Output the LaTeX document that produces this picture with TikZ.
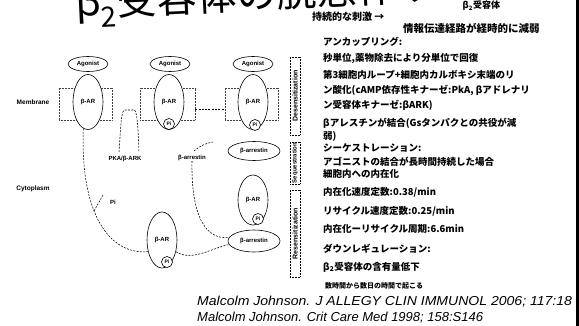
\documentclass[tikz,border=0pt]{standalone}
\usepackage{fontspec}
\setmainfont{Liberation Sans}
\newfontfamily\cjk{Noto Sans CJK JP}
\usetikzlibrary{shapes.geometric}
\begin{document}
\begin{tikzpicture}[x=1pt,y=-1pt,
  lab/.style={inner sep=0pt, font=\bfseries\fontsize{6}{6}\selectfont},
  oval/.style={draw, ellipse, line width=0.6pt, fill=white, inner sep=0pt, font=\bfseries\fontsize{6}{6}\selectfont},
  agon/.style={oval, minimum width=40pt, minimum height=15pt},
  bar/.style={oval, minimum width=30pt, minimum height=55pt},
  arrest/.style={oval, minimum width=52pt, minimum height=19pt},
  pcirc/.style={draw, circle, line width=0.6pt, fill=white, minimum size=11pt, inner sep=0pt, font=\bfseries\fontsize{5}{5}\selectfont},
  memb/.style={draw, densely dotted, line width=0.5pt, black!75, minimum width=53pt, minimum height=32pt, inner sep=0pt},
  vbox/.style={draw, densely dotted, line width=0.5pt, rotate=90, minimum height=10pt, inner sep=0pt, font=\bfseries\fontsize{7}{7}\selectfont},
  cline/.style={dash pattern=on 2pt off 1.3pt, line width=0.55pt},
  jtxt/.style={anchor=west, inner sep=0pt, font=\cjk\bfseries\fontsize{9.5}{9.5}\selectfont},
  cite/.style={anchor=west, inner sep=0pt, font=\itshape\fontsize{13}{13}\selectfont}]
\useasboundingbox (0,0) rectangle (579,326);
\clip (0,0) rectangle (579,326);

% title
\node[anchor=base west, inner sep=0pt, rotate=2.7, font=\cjk\fontsize{40}{40}\selectfont] (title) at (76,17) {β\textsubscript{2}受容体の脱感作サイクル};

% membrane boxes
\node[memb] (mb1) at (85.5,104) {};
\node[memb, minimum width=55pt] (mb2) at (167.5,104) {};
\node[memb] (mb3) at (251.5,104) {};

% receptors
\node[bar] (r1) at (88,102) {β-AR};
\node[bar] (r2) at (169,102) {β-AR};
\node[bar] (r3) at (253,102) {β-AR};
\node[agon] (a1) at (88,64) {Agonist};
\node[agon] (a2) at (170,64) {Agonist};
\node[agon] (a3) at (253,64) {Agonist};
\node[pcirc] (p2) at (169,124) {Pi};
\node[pcirc] (p3) at (255,125) {Pi};
\node[arrest] (b1) at (254,151) {β-arrestin};

\node[bar, minimum height=50pt] (r4) at (253,200) {β-AR};
\node[pcirc] (p4) at (258,219) {Pi};
\node[arrest, minimum height=22pt] (b2) at (254,241) {β-arrestin};
\node[bar, minimum height=56pt] (r5) at (162,240) {β-AR};
\node[pcirc] (p5) at (167,262) {Pi};

% labels
\node[lab, font=\bfseries\fontsize{6.5}{6.5}\selectfont] (membrane) at (33,102) {Membrane};
\node[lab, font=\bfseries\fontsize{6.5}{6.5}\selectfont] (cyto) at (33,189) {Cytoplasm};
\node[lab] (pka) at (125,159) {PKA/β-ARK};
\node[lab] (barr) at (192,158) {β-arrestin};
\node[lab] (pi) at (113,202) {Pi};

% connectors
\coordinate (e1) at (194,151);
\coordinate (e2) at (213,142);
\coordinate (t1) at (94,211);
\coordinate (t2) at (103,195);
\coordinate (u1) at (119,152);
\coordinate (u2) at (139,152);
\draw[cline] ([yshift=-5pt]mb2.east) -- ([yshift=-5pt]mb3.west);
\draw[cline] (u1) .. controls (121,125) and (121,110) .. (125,110) -- (134,110) .. controls (137,110) and (138,125) .. (u2);
\draw[cline] (e1) .. controls (200,146) and (206,143) .. (e2);
\draw[cline] (r1.-100) .. controls (80,215) and (110,255) .. (r5.-140);
\draw[cline] (t1) -- (t2);
\draw[cline] (barr.south) .. controls (191,215) and (205,240) .. (b2.172);
\draw[cline] (r5.-40) .. controls (192,262) and (212,248) .. (b2.188);

% stage boxes
\node[vbox, minimum width=78pt] (v1) at (295,96) {Desensitization};
\node[vbox, minimum width=42pt, font=\bfseries\fontsize{6}{6}\selectfont] (v2) at (295,163) {Sequestration};
\node[vbox, minimum width=87pt] (v3) at (295,233.5) {Resensitization};

% right text
\node[anchor=west, inner sep=0.5pt, fill=white, font=\cjk\bfseries\fontsize{9}{9}\selectfont] (sub) at (462,6) {β\textsubscript{2}受容体};
\node[jtxt, font=\cjk\bfseries\fontsize{10}{10}\selectfont] (j0) at (312,17) {持続的な刺激 →};
\node[jtxt, font=\cjk\bfseries\fontsize{10.5}{10.5}\selectfont] (j1) at (403,28) {情報伝達経路が経時的に減弱};
\node[jtxt] (j2) at (323,42) {アンカップリング:};
\node[jtxt] (j3) at (323,58) {秒単位,薬物除去により分単位で回復};
\node[jtxt] (j4) at (323,75) {第3細胞内ループ+細胞内カルボキシ末端のリ};
\node[jtxt] (j5) at (323,90) {ン酸化(cAMP依存性キナーゼ:PkA, βアドレナリ};
\node[jtxt] (j6) at (323,105) {ン受容体キナーゼ:βARK)};
\node[jtxt] (j7) at (323,123) {βアレスチンが結合(Gsタンパクとの共役が減};
\node[jtxt] (j8) at (323,136) {弱)};
\node[jtxt] (j9) at (323,148) {シーケストレーション:};
\node[jtxt] (j10) at (323,162) {アゴニストの結合が長時間持続した場合};
\node[jtxt] (j11) at (323,174) {細胞内への内在化};
\node[jtxt] (j12) at (323,192) {内在化速度定数:0.38/min};
\node[jtxt] (j13) at (323,211) {リサイクル速度定数:0.25/min};
\node[jtxt] (j14) at (323,229) {内在化ーリサイクル周期:6.6min};
\node[jtxt] (j15) at (323,249) {ダウンレギュレーション:};
\node[jtxt] (j16) at (323,267) {β\textsubscript{2}受容体の含有量低下};
\node[jtxt, font=\cjk\bfseries\fontsize{7}{7}\selectfont] (j17) at (325,286) {数時間から数日の時間で起こる};

% citations
\node[cite, xscale=1.08, transform shape] (c1) at (197,302) {Malcolm Johnson. J ALLEGY CLIN IMMUNOL 2006; 117:18};
\node[cite] (c2) at (197,318) {Malcolm Johnson. Crit Care Med 1998; 158:S146};

% right edge bar
\fill (576,0) rectangle (579,326);
\end{tikzpicture}
\end{document}
